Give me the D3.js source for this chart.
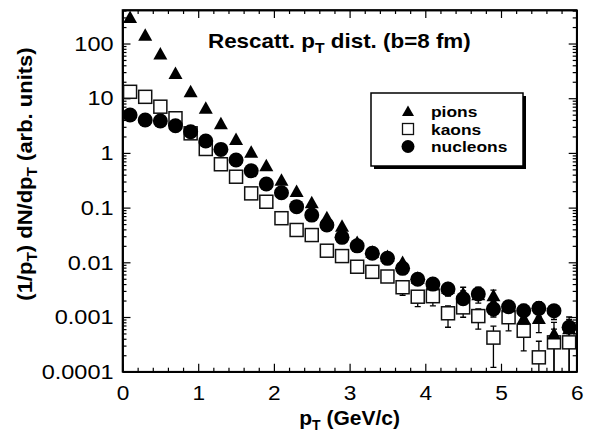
<!DOCTYPE html>
<html>
<head>
<meta charset="utf-8">
<script src="https://cdn.jsdelivr.net/npm/d3@7"></script>
<style>
  body { margin: 0; background: #fff; }
  svg { display: block; }
  .axis path { stroke: #000; stroke-width: 1.6; }
  .axis line { stroke: #000; stroke-width: 1.2; }
  .axis text { font-family: "Liberation Sans", Arial, sans-serif; font-size: 21px; fill: #000; }
  .lbl { font-family: "Liberation Sans", Arial, sans-serif; font-weight: bold; fill: #000; }
</style>
</head>
<body>
<div id="chart"></div>
<script>
// pT bin centres (GeV/c)
const pt = [0.1, 0.3, 0.5, 0.7, 0.9, 1.1, 1.3, 1.5, 1.7, 1.9,
            2.1, 2.3, 2.5, 2.7, 2.9, 3.1, 3.3, 3.5, 3.7, 3.9,
            4.1, 4.3, 4.5, 4.7, 4.9, 5.1, 5.3, 5.5, 5.7, 5.9];

// values
const pions = [292, 139, 63, 27.7, 12.8, 6.4, 3.33, 1.72, 1.01, 0.57,
               0.31, 0.193, 0.12, 0.064, 0.0448, 0.0225, 0.015, 0.0125, 0.0097, 0.005,
               0.004, 0.0033, 0.0026, 0.0025, 0.0024, 0.0015, 0.00092, 0.00092, 0.00048, 0.0006];
const kaons = [13.1, 10.6, 7.0, 4.3, 2.28, 1.18, 0.62, 0.367, 0.182, 0.128,
               0.064, 0.039, 0.0315, 0.0163, 0.013, 0.0083, 0.0067, 0.0055, 0.0035, 0.00235,
               0.0024, 0.00117, 0.0015, 0.00104, 0.00042, 0.00099, 0.00056, 0.000183, 0.000344, 0.000344];
const nucleons = [4.93, 4.0, 3.83, 3.14, 2.44, 1.65, 1.16, 0.74, 0.47, 0.27,
                  0.187, 0.104, 0.073, 0.048, 0.0286, 0.020, 0.0146, 0.0118, 0.00776, 0.00489,
                  0.0040, 0.00325, 0.00216, 0.00263, 0.0014, 0.00154, 0.0013, 0.00144, 0.0013, 0.00065];

// error bar ends (null = no visible bar)
const N = null;
const pionLo = [N,N,N,N,N,N,N,N,N,N, N,N,N,N,N,N,N,N,N,N,
                N,N,0.0018,N,0.0018,N,0.0006,0.00052,0.00005,0.00005];
const pionHi = [N,N,N,N,N,N,N,N,N,N, N,N,N,N,N,N,N,N,N,N,
                N,N,0.0035,N,0.0031,N,0.0013,0.0013,0.0008,0.0009];
const kaonLo = [N,N,N,N,N,N,N,N,N,N, N,N,N,N,N,N,N,N,0.0025,0.00155,
                0.0016,0.00065,0.00099,0.0006,0.00012,0.00056,0.00024,0.00005,0.00005,0.00005];
const kaonHi = [N,N,N,N,N,N,N,N,N,N, N,N,N,N,N,N,N,N,0.0045,0.003,
                0.003,0.0016,0.002,0.0014,0.00068,0.0013,0.0008,0.00036,0.0006,0.0006];
const nucLo = [N,N,N,N,N,N,N,N,N,N, N,N,N,N,N,N,N,N,N,N,
               N,0.0024,0.0017,0.0018,0.001,0.0011,0.0009,0.001,0.0009,0.0004];
const nucHi = [N,N,N,N,N,N,N,N,N,N, N,N,N,N,N,N,N,N,N,N,
               N,0.0042,0.003,0.0035,0.0019,0.002,0.0017,0.0019,0.0016,0.001];

const xTicks = [0, 1, 2, 3, 4, 5, 6];
const yTicks = [0.0001, 0.001, 0.01, 0.1, 1, 10, 100];
const yTickLabels = ["0.0001", "0.001", "0.01", "0.1", "1", "10", "100"];
const legendNames = ["pions", "kaons", "nucleons"];

const W = 596, H = 435;
const margin = {top: 10, right: 19.3, bottom: 63.3, left: 122.5};
const width = W - margin.left - margin.right;
const height = H - margin.top - margin.bottom;

const svg = d3.select("#chart").append("svg")
    .attr("width", W)
    .attr("height", H);

const g = svg.append("g")
    .attr("transform", `translate(${margin.left},${margin.top})`);

const x = d3.scaleLinear().domain([0, 6]).range([0, width]);
const y = d3.scaleLog().domain([0.0001, 410]).range([height, 0]);

// minor tick positions
const xMinor = d3.range(0, 6.001, 0.2).filter(v => Math.abs(v - Math.round(v)) > 1e-6);
const yMinor = [];
for (let e = -4; e <= 2; e++) {
    for (let k = 2; k <= 9; k++) {
        const v = k * Math.pow(10, e);
        if (v < 410) yMinor.push(v);
    }
}

// axes, ticks pointing inward on all four sides
g.append("g").attr("class", "axis")
    .attr("transform", `translate(0,${height})`)
    .call(d3.axisBottom(x).tickValues(xMinor).tickSize(-4).tickFormat("").tickSizeOuter(0));
g.append("g").attr("class", "axis x-major")
    .attr("transform", `translate(0,${height})`)
    .call(d3.axisBottom(x).tickValues(xTicks).tickSize(-8).tickSizeOuter(0).tickPadding(13).tickFormat(d3.format("d")));
g.append("g").attr("class", "axis")
    .call(d3.axisTop(x).tickValues(xMinor).tickSize(-4).tickFormat("").tickSizeOuter(0));
g.append("g").attr("class", "axis")
    .call(d3.axisTop(x).tickValues(xTicks).tickSize(-8).tickFormat("").tickSizeOuter(0));

g.append("g").attr("class", "axis")
    .call(d3.axisLeft(y).tickValues(yMinor).tickSize(-4).tickFormat("").tickSizeOuter(0));
g.append("g").attr("class", "axis y-major")
    .call(d3.axisLeft(y).tickValues(yTicks).tickSize(-8).tickSizeOuter(0).tickPadding(8)
        .tickFormat((d, i) => yTickLabels[i]));
g.append("g").attr("class", "axis")
    .attr("transform", `translate(${width},0)`)
    .call(d3.axisRight(y).tickValues(yMinor).tickSize(-4).tickFormat("").tickSizeOuter(0));
g.append("g").attr("class", "axis")
    .attr("transform", `translate(${width},0)`)
    .call(d3.axisRight(y).tickValues(yTicks).tickSize(-8).tickFormat("").tickSizeOuter(0));

// the original lettering is a bit wider than Liberation Sans
g.selectAll(".x-major text").attr("transform", "scale(1.08,1)");
g.selectAll(".y-major text").attr("transform", "scale(1.12,1)");

// plot clip
g.append("clipPath").attr("id", "clip")
    .append("rect").attr("width", width).attr("height", height);
const plot = g.append("g").attr("clip-path", "url(#clip)");

// error bars
function errorBars(vals, lo, hi) {
    const cap = 3;
    vals.forEach((v, i) => {
        const cx = x(pt[i]);
        [lo[i], hi[i]].forEach(e => {
            if (e === null) return;
            plot.append("line")
                .attr("x1", cx).attr("x2", cx)
                .attr("y1", y(v)).attr("y2", y(e))
                .attr("stroke", "#000").attr("stroke-width", 1.3);
            plot.append("line")
                .attr("x1", cx - cap).attr("x2", cx + cap)
                .attr("y1", y(e)).attr("y2", y(e))
                .attr("stroke", "#000").attr("stroke-width", 1.3);
        });
    });
}
errorBars(kaons, kaonLo, kaonHi);
errorBars(pions, pionLo, pionHi);
errorBars(nucleons, nucLo, nucHi);

const triPath = "M0,-7.5L7,5L-7,5Z";

// kaons: open squares
plot.selectAll(".kaon")
    .data(kaons)
    .enter().append("rect")
    .attr("class", "kaon")
    .attr("x", (d, i) => x(pt[i]) - 6.5)
    .attr("y", d => y(d) - 6.5)
    .attr("width", 13).attr("height", 13)
    .attr("fill", "#fff")
    .attr("stroke", "#111")
    .attr("stroke-width", 1.5);

// pions: filled triangles
plot.selectAll(".pion")
    .data(pions)
    .enter().append("path")
    .attr("class", "pion")
    .attr("d", triPath)
    .attr("transform", (d, i) => `translate(${x(pt[i])},${y(d)})`)
    .attr("fill", "#000");

// nucleons: filled circles
plot.selectAll(".nuc")
    .data(nucleons)
    .enter().append("circle")
    .attr("class", "nuc")
    .attr("cx", (d, i) => x(pt[i]))
    .attr("cy", d => y(d))
    .attr("r", 7.5)
    .attr("fill", "#000");

// frame
g.append("rect")
    .attr("width", width).attr("height", height)
    .attr("fill", "none").attr("stroke", "#000").attr("stroke-width", 1.6);

// title
const title = svg.append("text").attr("class", "lbl")
    .attr("transform", "translate(208,48) scale(1.12,1)")
    .style("font-size", "20px");
title.append("tspan").text("Rescatt. p");
title.append("tspan").attr("dy", 5).style("font-size", "14px").text("T");
title.append("tspan").attr("dy", -5).text(" dist. (b=8 fm)");

// axis titles
const xt = svg.append("text").attr("class", "lbl")
    .attr("x", margin.left + width / 2).attr("y", 425)
    .attr("text-anchor", "middle")
    .style("font-size", "21px");
xt.append("tspan").text("p");
xt.append("tspan").attr("dy", 5).style("font-size", "14px").text("T");
xt.append("tspan").attr("dy", -5).text(" (GeV/c)");

const yt = svg.append("text").attr("class", "lbl")
    .attr("transform", "translate(32,174) rotate(-90) scale(1.1,1)")
    .attr("text-anchor", "middle")
    .style("font-size", "20px");
yt.append("tspan").text("(1/p");
yt.append("tspan").attr("dy", 5).style("font-size", "14px").text("T");
yt.append("tspan").attr("dy", -5).text(") dN/dp");
yt.append("tspan").attr("dy", 5).style("font-size", "14px").text("T");
yt.append("tspan").attr("dy", -5).text(" (arb. units)");

// legend
const lx = 371, ly = 93, lw = 152, lh = 73;
svg.append("rect")
    .attr("x", lx + 3).attr("y", ly + 3).attr("width", lw).attr("height", lh)
    .attr("fill", "#000");
svg.append("rect")
    .attr("x", lx).attr("y", ly).attr("width", lw).attr("height", lh)
    .attr("fill", "#fff").attr("stroke", "#000").attr("stroke-width", 1.5);

const legend = svg.append("g").attr("transform", `translate(${lx},${ly})`);
legendNames.forEach((name, i) => {
    const cy = 18.5 + i * 17.5;
    if (i === 0) {
        legend.append("path").attr("d", "M0,-6L6,4.5L-6,4.5Z")
            .attr("transform", `translate(37,${cy})`).attr("fill", "#000");
    } else if (i === 1) {
        legend.append("rect").attr("x", 31.5).attr("y", cy - 5.5)
            .attr("width", 11).attr("height", 11)
            .attr("fill", "#fff").attr("stroke", "#111").attr("stroke-width", 1.3);
    } else {
        legend.append("circle").attr("cx", 37).attr("cy", cy).attr("r", 6.5).attr("fill", "#000");
    }
    legend.append("text").attr("class", "lbl")
        .attr("transform", `translate(60,${cy + 5.5}) scale(1.16,1)`)
        .style("font-size", "15px")
        .text(name);
});
</script>
</body>
</html>
